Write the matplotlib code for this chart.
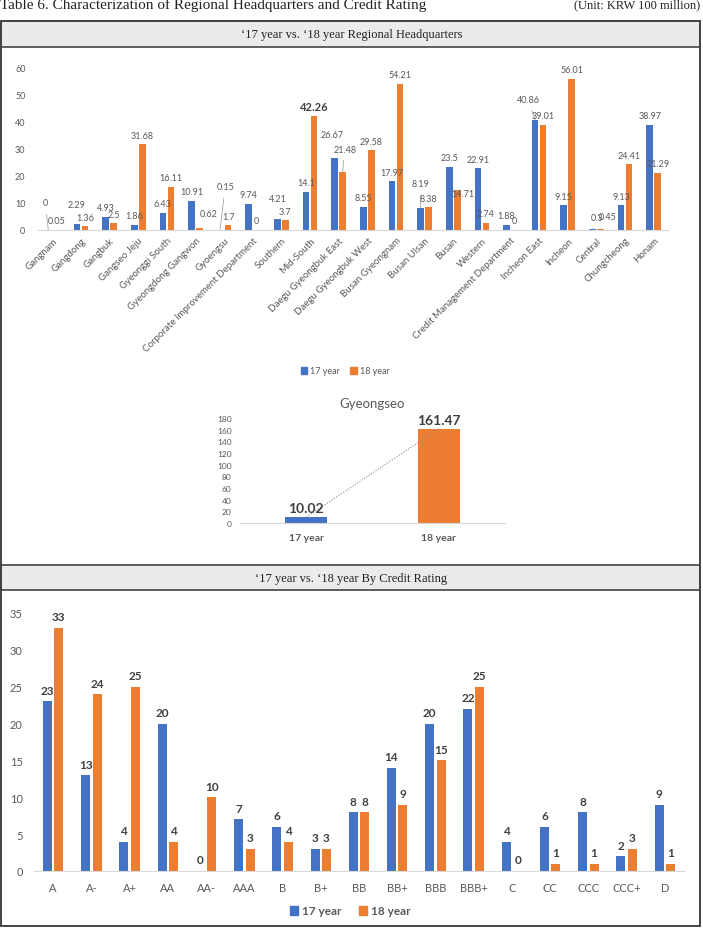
import matplotlib
matplotlib.use("Agg")
import matplotlib.pyplot as plt
from matplotlib.patches import Rectangle, Patch
import numpy as np

plt.rcParams['font.family'] = ['Lato', 'DejaVu Sans']

# ---- data ----
regions = ["Gangnam", "Gangdong", "Gangbuk", "Gangseo Jeju", "Gyeonggi South",
           "Gyeongdong Gangwon", "Gyoengsu", "Corporate Improvement Department",
           "Southern", "Mid-South", "Daegu Gyeongbuk East", "Daegu Gyeongbuk West",
           "Busan Gyeongnam", "Busan Ulsan", "Busan", "Western",
           "Credit Management Department", "Incheon East", "Incheon", "Central",
           "Chungcheong", "Honam"]
region_17 = [0, 2.29, 4.93, 1.86, 6.43, 10.91, 0.15, 9.74, 4.21, 14.1, 26.67, 8.55,
             17.97, 8.19, 23.5, 22.91, 1.88, 40.86, 9.15, 0.3, 9.13, 38.97]
region_18 = [0.05, 1.36, 2.5, 31.68, 16.11, 0.62, 1.7, 0, 3.7, 42.26, 21.48, 29.58,
             54.21, 8.38, 14.71, 2.74, 0, 39.01, 56.01, 0.45, 24.41, 21.29]

gs_years = ["17 year", "18 year"]
gs_values = [10.02, 161.47]

ratings = ["A", "A-", "A+", "AA", "AA-", "AAA", "B", "B+", "BB", "BB+", "BBB",
           "BBB+", "C", "CC", "CCC", "CCC+", "D"]
rating_17 = [23, 13, 4, 20, 0, 7, 6, 3, 8, 14, 20, 22, 4, 6, 8, 2, 9]
rating_18 = [33, 24, 25, 4, 10, 3, 4, 3, 8, 9, 15, 25, 0, 1, 1, 3, 1]

BLUE = '#4472C4'
ORANGE = '#ED7D31'
GRAY = '#595959'
DARK = '#404040'

W, H = 703, 937


def fx(x):
    return x / W


def fy(y):
    return 1 - y / H


def ax_at(x0, y_top, x1, y_bot):
    return fig.add_axes([fx(x0), fy(y_bot), fx(x1) - fx(x0), (y_bot - y_top) / H])


def clean(ax):
    for s in ['top', 'right', 'left']:
        ax.spines[s].set_visible(False)
    ax.spines['bottom'].set_color('#d9d9d9')
    ax.tick_params(length=0, colors=GRAY)
    ax.set_facecolor('none')


fig = plt.figure(figsize=(W / 100, H / 100), dpi=100)

# ---- frame, headers ----
serif = 'Liberation Serif'
fig.text(0.0, fy(5), "Table 6. Characterization of Regional Headquarters and Credit Rating",
         family=serif, fontsize=11, va='center', ha='left', color='#222222')
fig.text(fx(700), fy(5), "(Unit: KRW 100 million)", family=serif, fontsize=9,
         va='center', ha='right', color='#222222')

for top, bot in [(22, 48), (566, 591)]:
    fig.patches.append(Rectangle((fx(1), fy(bot)), fx(699), (bot - top) / H,
                                 transform=fig.transFigure, facecolor='#ebebeb',
                                 edgecolor='#444444', lw=1.2))
fig.patches.append(Rectangle((fx(1), fy(927)), fx(699), (927 - 22) / H,
                             transform=fig.transFigure, facecolor='none',
                             edgecolor='#444444', lw=1.4))
fig.text(0.5, fy(35), "\u201817 year vs. \u201818 year Regional Headquarters", family=serif,
         fontsize=9, ha='center', va='center', color='#222222')
fig.text(0.5, fy(579), "\u201817 year vs. \u201818 year By Credit Rating", family=serif,
         fontsize=9, ha='center', va='center', color='#222222')

# ---- chart 1: regional headquarters ----
ax1 = ax_at(38, 69, 668, 231)
clean(ax1)
x = np.arange(len(regions))
bw, off = 0.23, 0.14
ax1.bar(x - off, region_17, bw, color=BLUE)
ax1.bar(x + off, region_18, bw, color=ORANGE)
ax1.set_xlim(-0.5, len(regions) - 0.5)
ax1.set_ylim(0, 60)
ax1.set_yticks(range(0, 61, 10))
ax1.tick_params(axis='y', labelsize=6.5, pad=9)
ax1.set_xticks(x)
ax1.set_xticklabels(regions, rotation=45, ha='right', rotation_mode='anchor',
                    fontsize=7, color=GRAY)
ax1.tick_params(axis='x', pad=4)

# manual label shifts (dx, dy in pixels above bar top) and leader lines
shift = {(0, 0): (-3, 27), (0, 1): (0, 19), (1, 5): (9, 15), (0, 6): (5, 43),
         (0, 8): (0, 20), (0, 10): (-3, 23), (1, 10): (2, 23), (0, 13): (0, 24),
         (1, 14): (6, -3), (0, 17): (-7, 20), (0, 19): (5, 12), (1, 19): (7, 12)}
leaders = {(0, 0), (0, 6), (1, 10), (0, 13), (1, 14), (0, 17), (0, 19)}
for s, (vals, o) in enumerate([(region_17, -off), (region_18, off)]):
    for i, v in enumerate(vals):
        dx, dy = shift.get((s, i), (0, 9))
        txt = f"{v:g}"
        bold = txt == "42.26"
        ap = None
        if (s, i) in leaders:
            ap = dict(arrowstyle='-', color='#a6a6a6', lw=0.6, shrinkA=3, shrinkB=0)
        ax1.annotate(txt, (i + o, v), xytext=(dx, dy), textcoords='offset pixels',
                     ha='center', va='center', fontsize=8 if bold else 6.5,
                     fontweight='bold' if bold else 'normal',
                     color=DARK if bold else GRAY, arrowprops=ap)

fig.legend(handles=[Patch(color=BLUE, label='17 year'), Patch(color=ORANGE, label='18 year')],
           loc='center', bbox_to_anchor=(fx(345), fy(372)), ncol=2, frameon=False,
           fontsize=6.5, handlelength=0.7, handleheight=0.7, columnspacing=1.2,
           handletextpad=0.3, labelcolor=GRAY)

# ---- chart 2: Gyeongseo ----
ax2 = ax_at(240, 419, 505, 524)
clean(ax2)
xg = np.arange(len(gs_years))
ax2.bar(xg, gs_values, 0.32, color=[BLUE, ORANGE])
ax2.plot(xg, gs_values, linestyle=(0, (1, 1.5)), color='#8c8c8c', lw=0.8)
ax2.set_xlim(-0.5, 1.5)
ax2.set_ylim(0, 180)
ax2.set_yticks(range(0, 181, 20))
ax2.tick_params(axis='y', labelsize=6, pad=6)
ax2.set_xticks(xg)
ax2.set_xticklabels(gs_years, fontsize=7.5, fontweight='bold', color=GRAY)
ax2.tick_params(axis='x', pad=7)
for i, v in enumerate(gs_values):
    ax2.annotate(f"{v:.2f}", (i, v), xytext=(0, 9), textcoords='offset pixels',
                 ha='center', va='center', fontsize=10, fontweight='bold', color=DARK)
ax2.set_title("Gyeongseo", fontsize=9.5, color=GRAY, pad=8)

# ---- chart 3: credit rating ----
ax3 = ax_at(34, 614, 684, 872)
clean(ax3)
xr = np.arange(len(ratings))
bw3, off3 = 0.235, 0.15
ax3.bar(xr - off3, rating_17, bw3, color=BLUE)
ax3.bar(xr + off3, rating_18, bw3, color=ORANGE)
ax3.set_xlim(-0.5, len(ratings) - 0.5)
ax3.set_ylim(0, 35)
ax3.set_yticks(range(0, 36, 5))
ax3.tick_params(axis='y', labelsize=8, pad=8)
ax3.set_xticks(xr)
ax3.set_xticklabels(ratings, fontsize=8, color=GRAY)
ax3.tick_params(axis='x', pad=8)
for vals, o in [(rating_17, -off3), (rating_18, off3)]:
    for i, v in enumerate(vals):
        ax3.annotate(f"{v}", (i + o, v), xytext=(0, 11), textcoords='offset pixels',
                     ha='center', va='center', fontsize=8.5, fontweight='bold', color=DARK)

fig.legend(handles=[Patch(color=BLUE, label='17 year'), Patch(color=ORANGE, label='18 year')],
           loc='center', bbox_to_anchor=(fx(350), fy(912)), ncol=2, frameon=False,
           handlelength=0.7, handleheight=0.7, columnspacing=1.5,
           handletextpad=0.3, labelcolor=GRAY, prop={'weight': 'bold', 'size': 8.5})

fig.savefig('out.png', dpi=100)
